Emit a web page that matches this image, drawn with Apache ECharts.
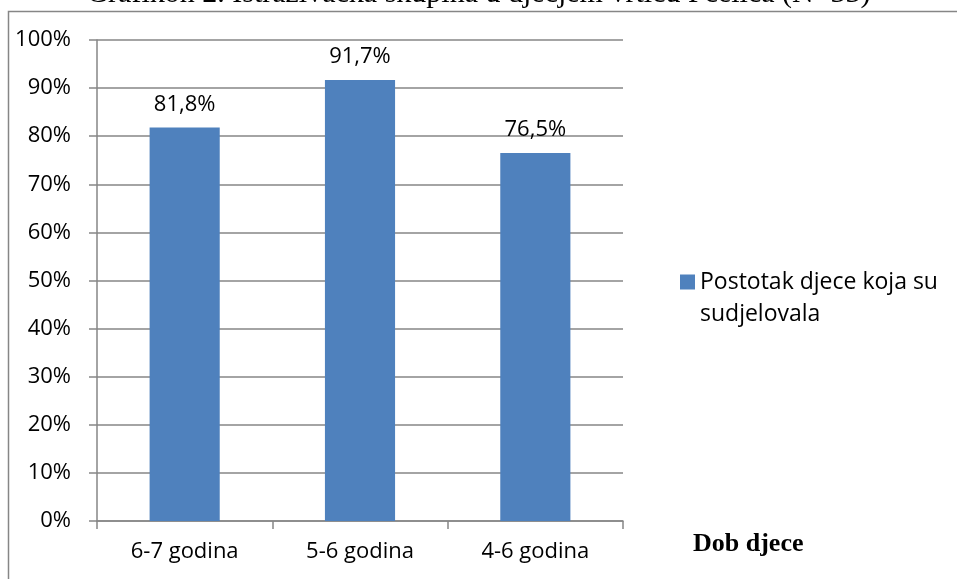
<!DOCTYPE html>
<html>
<head>
<meta charset="utf-8">
<script src="https://cdn.jsdelivr.net/npm/echarts@6/dist/echarts.min.js"></script>
<style>
  html, body { margin: 0; padding: 0; background: #fff; overflow: hidden; }
  #chart { width: 957px; height: 579px; }
</style>
</head>
<body>
<div id="chart"></div>
<script>
    // values
    let categories = ['6-7 godina', '5-6 godina', '4-6 godina'];
    let postotak = [81.8, 91.7, 76.5];
    let seriesName = 'Postotak djece koja su\nsudjelovala';
    let titleText = 'Grafikon 2. Istraživačka skupina u dječjem vrtiću Pčelica (N=33)';
    let xName = 'Dob djece';

    let axisGray = '#868686';
    let barBlue = '#4f81bd';
    let sans = '"Open Sans", "Liberation Sans", sans-serif';
    let serif = '"Liberation Serif", "DejaVu Serif", serif';

    let chart = echarts.init(document.getElementById('chart'));

    chart.setOption({
        animation: false,
        title: {
            text: titleText,
            left: 'center',
            top: -21,
            padding: 0,
            textStyle: {
                fontFamily: serif,
                fontSize: 30,
                fontWeight: 'normal',
                color: '#000'
            }
        },
        graphic: [
            {
                // outer frame of the chart box, only top and left edges are in view
                type: 'polyline',
                shape: {points: [[8.5, 579], [8.5, 11.5], [957, 11.5]]},
                style: {fill: null, stroke: axisGray, lineWidth: 1.5, lineJoin: 'miter'},
                silent: true
            },
            {
                type: 'text',
                x: 693,
                y: 544,
                style: {
                    text: xName,
                    font: 'bold 26px ' + serif,
                    fill: '#000',
                    verticalAlign: 'middle'
                }
            }
        ],
        legend: {
            left: 680,
            top: 234,
            padding: 0,
            itemWidth: 15,
            itemHeight: 15,
            icon: 'rect',
            data: [seriesName],
            // empty first line so the marker sits next to the first text line
            formatter: function (name) {
                return '\n' + name;
            },
            textStyle: {
                fontFamily: sans,
                fontSize: 23,
                color: '#000',
                lineHeight: 32
            }
        },
        grid: {
            left: 97,
            right: 334,
            top: 40,
            bottom: 58
        },
        xAxis: {
            type: 'category',
            data: categories,
            axisLine: {lineStyle: {color: axisGray, width: 1.5}},
            axisTick: {show: true, length: 8, lineStyle: {color: axisGray, width: 1.5}},
            axisLabel: {
                margin: 20,
                fontFamily: sans,
                fontSize: 22,
                color: '#000'
            }
        },
        yAxis: {
            type: 'value',
            min: 0,
            max: 100,
            interval: 10,
            axisLine: {show: true, lineStyle: {color: axisGray, width: 1.5}},
            axisTick: {show: true, length: 8, lineStyle: {color: axisGray, width: 1.5}},
            splitLine: {lineStyle: {color: axisGray, width: 1.5}},
            axisLabel: {
                margin: 26,
                formatter: '{value}%',
                fontFamily: sans,
                fontSize: 22,
                color: '#000'
            }
        },
        series: [
            {
                name: seriesName,
                type: 'bar',
                data: postotak,
                barWidth: '40%',
                itemStyle: {color: barBlue},
                label: {
                    show: true,
                    position: 'top',
                    distance: 12,
                    fontFamily: sans,
                    fontSize: 22,
                    color: '#000',
                    formatter: function (p) {
                        return p.value.toFixed(1).replace('.', ',') + '%';
                    }
                }
            }
        ]
    });
</script>
</body>
</html>
